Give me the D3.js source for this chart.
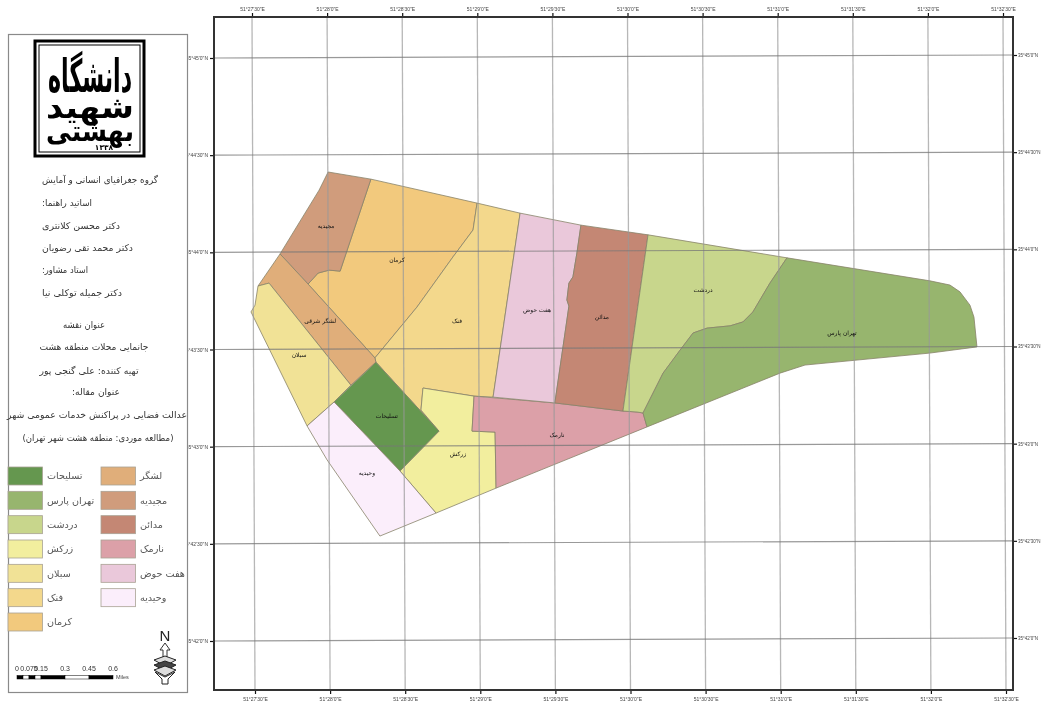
<!DOCTYPE html>
<html>
<head>
<meta charset="utf-8">
<script src="https://cdn.jsdelivr.net/npm/d3@7"></script>
<style>
html, body { margin: 0; padding: 0; background: #fff; }
svg { display: block; filter: blur(0.45px); }
text { font-family: "DejaVu Sans", sans-serif; }
</style>
</head>
<body>
<script>
var width = 1041,
    height = 702;

// lon = seconds after 51 deg 27', lat = seconds after 35 deg 42'
var lonTicks = [30, 60, 90, 120, 150, 180, 210, 240, 270, 300, 330];
var lonLabels = ["51°27'30\"E", "51°28'0\"E", "51°28'30\"E", "51°29'0\"E", "51°29'30\"E", "51°30'0\"E",
    "51°30'30\"E", "51°31'0\"E", "51°31'30\"E", "51°32'0\"E", "51°32'30\"E"];
var latTicks = [180, 150, 120, 90, 60, 30, 0];
var latLabels = ["35°45'0\"N", "35°44'30\"N", "35°44'0\"N", "35°43'30\"N", "35°43'0\"N", "35°42'30\"N", "35°42'0\"N"];

var districtNames = ["کرمان", "فنک", "زرکش", "مجیدیه", "لشگر شرقی", "سبلان", "تسلیحات", "وحیدیه", "نارمک", "هفت حوض", "مدائن", "دردشت", "تهران پارس"];

var kerman = [[77.5,142.6],[119.9,135.2],[118.3,126.9],[110.3,118.6],[95.9,103.1],[79.1,87.4],[52.4,110.2],[56.4,113.6],[60.8,114.5],[65.2,114.2]];
var fanak = [[119.9,135.2],[137.1,132.1],[126.3,75.3],[118.7,75.6],[98.3,78.1],[97.5,71.3],[104.7,64.8],[79.5,86.1],[79.1,87.4],[95.9,103.1],[110.3,118.6],[118.3,126.9]];
var zarkesh = [[98.3,78.1],[118.7,75.6],[117.9,64.8],[127.1,64.5],[127.5,47.2],[103.5,39.5],[89.1,52.5],[104.7,64.8],[97.5,71.3]];
var majidieh = [[60.4,144.8],[77.5,142.6],[65.2,114.2],[60.8,114.5],[56.4,113.6],[52.4,110.2],[41.2,119.5],[56.8,139.2]];
var lashgar = [[41.2,119.5],[52.4,110.2],[79.1,87.4],[79.5,86.1],[69.5,79.0],[36.8,110.5],[32.4,109.6]];
var sabalan = [[32.4,109.6],[36.8,110.5],[69.5,79.0],[62.8,73.8],[52.0,66.4],[29.6,101.6],[31.2,103.7]];
var taslihat = [[79.5,86.1],[104.7,64.8],[89.1,52.5],[62.8,73.8]];
var vahidieh = [[62.8,73.8],[89.1,52.5],[103.5,39.5],[81.1,32.4],[60.0,55.9],[52.0,66.4]];
var narmak = [[118.7,75.6],[151.0,73.5],[178.2,71.0],[183.8,70.7],[186.2,70.4],[187.8,66.1],[127.5,47.2],[127.1,64.5],[117.9,64.8]];
var haftHoz = [[137.1,132.1],[161.4,128.4],[159.8,119.8],[158.2,112.4],[156.6,110.5],[155.8,105.3],[156.6,103.4],[151.0,73.5],[126.3,75.3]];
var madaen = [[161.4,128.4],[188.2,125.4],[178.2,71.0],[151.0,73.5],[156.6,103.4],[155.8,105.3],[156.6,110.5],[158.2,112.4],[159.8,119.8]];
var dardasht = [[188.2,125.4],[243.7,118.3],[236.9,110.5],[230.1,101.6],[226.1,98.5],[221.0,97.3],[211.8,96.6],[206.2,95.1],[201.0,89.8],[194.2,82.7],[186.2,70.4],[183.8,70.7],[178.2,71.0]];
var tehranPars = [[243.7,118.3],[300.8,111.2],[308.8,109.9],[312.8,107.8],[316.8,103.7],[318.4,100.0],[319.6,90.8],[300.8,88.9],[250.9,85.2],[240.9,82.7],[187.8,66.1],[186.2,70.4],[194.2,82.7],[201.0,89.8],[206.2,95.1],[211.8,96.6],[221.0,97.3],[226.1,98.5],[230.1,101.6],[236.9,110.5]];
var districtRings = [kerman, fanak, zarkesh, majidieh, lashgar, sabalan, taslihat, vahidieh, narmak, haftHoz, madaen, dardasht, tehranPars];
var districtLabelAt = [[87.9,117.6],[111.9,98.8],[112.3,57.7],[59.6,128.1],[57.2,98.8],[48.8,88.3],[83.9,69.5],[75.9,51.9],[151.8,63.6],[143.9,102.2],[169.8,100.0],[210.2,108.4],[265.7,95.1]];
var districtColors = ["#f2c97d", "#f3d88c", "#f2ee9e", "#d09c7c", "#e0ae7a", "#f1e296", "#65974f", "#fbeefb", "#dca0a8", "#eac8da", "#c48774", "#c8d68c", "#97b56e"];

var legendLeft = ["تسلیحات", "تهران پارس", "دردشت", "زرکش", "سبلان", "فنک", "کرمان"];
var legendLeftColors = ["#65974f", "#97b56e", "#c8d68c", "#f2ee9e", "#f1e296", "#f3d88c", "#f2c97d"];
var legendRight = ["لشگر", "مجیدیه", "مدائن", "نارمک", "هفت حوض", "وحیدیه"];
var legendRightColors = ["#e0ae7a", "#d09c7c", "#c48774", "#dca0a8", "#eac8da", "#fbeefb"];

var creditLines = ["گروه جغرافیای انسانی و آمایش", "اساتید راهنما:", "دکتر محسن کلانتری", "دکتر محمد تقی رضویان", "استاد مشاور:", "دکتر جمیله توکلی نیا"];
var titleLines = ["عنوان نقشه", "جانمایی محلات منطقه هشت", "تهیه کننده: علی گنجی پور", "عنوان مقاله:", "عدالت فضایی در پراکنش خدمات  عمومی شهر", "(مطالعه موردی: منطقه هشت شهر تهران)"];

var scaleStops = [0, 0.0375, 0.075, 0.1125, 0.15, 0.3, 0.45, 0.6];
var scaleTicks = [0, 0.075, 0.15, 0.3, 0.45, 0.6];

var frame = {left: 214, right: 1013, top: 17, bottom: 690};

var xTop = d3.scaleLinear().domain([30, 330]).range([252, 1003]),
    xBottom = d3.scaleLinear().domain([30, 330]).range([255, 1006]),
    yLeft = d3.scaleLinear().domain([0, 180]).range([641, 58]),
    yRight = d3.scaleLinear().domain([0, 180]).range([638, 55]);

var svg = d3.select("body").append("svg")
    .attr("width", width)
    .attr("height", height);

// districts
var line = d3.line()
    .x(function(d) { return xTop(d[0]); })
    .y(function(d) { return yLeft(d[1]); });

svg.append("g").selectAll("path")
    .data(districtRings)
    .enter().append("path")
    .attr("d", function(d) { return line(d) + "Z"; })
    .style("fill", function(d, i) { return districtColors[i]; })
    .style("stroke", "#88836a")
    .style("stroke-width", 0.8)
    .style("stroke-linejoin", "round");

// graticule goes over the districts
var grid = svg.append("g");
grid.selectAll(".lon")
    .data(lonTicks)
    .enter().append("line")
    .attr("class", "lon")
    .attr("x1", function(d) { return xTop(d); })
    .attr("x2", function(d) { return xBottom(d); })
    .attr("y1", frame.top)
    .attr("y2", frame.bottom)
    .style("stroke", "#999")
    .style("stroke-opacity", 0.7)
    .style("stroke-width", 1.3);
grid.selectAll(".lat")
    .data(latTicks)
    .enter().append("line")
    .attr("class", "lat")
    .attr("x1", frame.left)
    .attr("x2", frame.right)
    .attr("y1", function(d) { return yLeft(d); })
    .attr("y2", function(d) { return yRight(d); })
    .style("stroke", "#777")
    .style("stroke-opacity", 0.75)
    .style("stroke-width", 1.2);

svg.append("g").selectAll("text")
    .data(districtNames)
    .enter().append("text")
    .attr("x", function(d, i) { return xTop(districtLabelAt[i][0]); })
    .attr("y", function(d, i) { return yLeft(districtLabelAt[i][1]); })
    .attr("dy", "0.35em")
    .attr("text-anchor", "middle")
    .style("font-size", "6px")
    .style("fill", "#111")
    .text(function(d) { return d; });

// axes, one on each side of the frame
function styleAxis(g) {
    g.select(".domain").remove();
    g.selectAll(".tick line").style("stroke", "#111").style("stroke-width", 1.2);
    g.selectAll(".tick text").style("font-size", "5px").style("fill", "#444").style("font-family", "'Liberation Sans', sans-serif");
}
svg.append("g").attr("transform", "translate(0," + frame.top + ")")
    .call(d3.axisTop(xTop).tickValues(lonTicks).tickSize(4).tickPadding(2).tickFormat(function(d, i) { return lonLabels[i]; }))
    .call(styleAxis);
svg.append("g").attr("transform", "translate(0," + frame.bottom + ")")
    .call(d3.axisBottom(xBottom).tickValues(lonTicks).tickSize(4).tickPadding(3).tickFormat(function(d, i) { return lonLabels[i]; }))
    .call(styleAxis);
svg.append("g").attr("transform", "translate(" + frame.left + ",0)")
    .call(d3.axisLeft(yLeft).tickValues(latTicks).tickSize(4).tickPadding(2).tickFormat(function(d, i) { return latLabels[i]; }))
    .call(styleAxis);
svg.append("g").attr("transform", "translate(" + frame.right + ",0)")
    .call(d3.axisRight(yRight).tickValues(latTicks).tickSize(4).tickPadding(1).tickFormat(function(d, i) { return latLabels[i]; }))
    .call(styleAxis)
    .selectAll(".tick text").style("font-size", "4.5px");

svg.append("rect")
    .attr("x", frame.left)
    .attr("y", frame.top)
    .attr("width", frame.right - frame.left)
    .attr("height", frame.bottom - frame.top)
    .style("fill", "none")
    .style("stroke", "#333")
    .style("stroke-width", 2);

// side panel
var panel = svg.append("g");
panel.append("rect")
    .attr("x", 8.5).attr("y", 34.5)
    .attr("width", 179).attr("height", 658)
    .style("fill", "#fff")
    .style("stroke", "#8a8a8a")
    .style("stroke-width", 1.2);

// logo
var logo = panel.append("g");
logo.append("rect").attr("x", 35).attr("y", 41).attr("width", 109).attr("height", 115)
    .style("fill", "#fff").style("stroke", "#000").style("stroke-width", 3);
logo.append("rect").attr("x", 39).attr("y", 45).attr("width", 101).attr("height", 107)
    .style("fill", "none").style("stroke", "#000").style("stroke-width", 1);
logo.selectAll(".logoline")
    .data(["دانشگاه", "شهید", "بهشتی"])
    .enter().append("text")
    .attr("class", "logoline")
    .attr("transform", function(d, i) {
        return "translate(" + [90, 90, 90][i] + "," + [92, 118, 141][i] + ") scale(1," + [1.75, 1.1, 1.1][i] + ")";
    })
    .attr("text-anchor", "middle")
    .attr("textLength", function(d, i) { return [84, 88, 88][i]; })
    .attr("lengthAdjust", "spacingAndGlyphs")
    .style("font-size", function(d, i) { return [26, 28, 26][i] + "px"; })
    .style("font-weight", "bold")
    .style("fill", "#000")
    .text(function(d) { return d; });
logo.append("text")
    .attr("x", 104).attr("y", 150)
    .attr("text-anchor", "middle")
    .style("font-size", "7.5px")
    .style("font-weight", "bold")
    .text("۱۳۳۸");

var creditY = [180, 203, 226, 248, 270, 293],
    creditX = [100, 42, 42, 42, 42, 42],
    creditWidth = [116, 50, 78, 91, 46, 80],
    titleY = [325, 347, 371, 392, 415, 438],
    titleX = [84, 94, 89, 96, 97, 98],
    titleWidth = [42, 109, 99, 48, 180, 151];

panel.selectAll(".credit")
    .data(creditLines)
    .enter().append("text")
    .attr("class", "credit")
    .attr("x", function(d, i) { return creditX[i]; })
    .attr("y", function(d, i) { return creditY[i]; })
    .attr("dy", "0.35em")
    .attr("direction", "rtl")
    .attr("text-anchor", function(d, i) { return i ? "end" : "middle"; })
    .attr("textLength", function(d, i) { return creditWidth[i]; })
    .attr("lengthAdjust", "spacingAndGlyphs")
    .style("font-size", "9.2px")
    .style("fill", "#333")
    .text(function(d) { return d; });

panel.selectAll(".title")
    .data(titleLines)
    .enter().append("text")
    .attr("class", "title")
    .attr("x", function(d, i) { return titleX[i]; })
    .attr("y", function(d, i) { return titleY[i]; })
    .attr("dy", "0.35em")
    .attr("direction", "rtl")
    .attr("text-anchor", "middle")
    .attr("textLength", function(d, i) { return titleWidth[i]; })
    .attr("lengthAdjust", "spacingAndGlyphs")
    .style("font-size", "9.2px")
    .style("fill", "#333")
    .text(function(d) { return d; });

// legend
var legendY = d3.scalePoint().domain(d3.range(7)).range([476, 622]);

function legendColumn(labels, colors, swatchX, textX) {
    var row = panel.append("g").selectAll("g")
        .data(labels)
        .enter().append("g")
        .attr("transform", function(d, i) { return "translate(0," + legendY(i) + ")"; });
    row.append("rect")
        .attr("x", swatchX).attr("y", -9)
        .attr("width", 34.5).attr("height", 18)
        .style("fill", function(d, i) { return colors[i]; })
        .style("stroke", "#a9a294")
        .style("stroke-width", 0.8);
    row.append("text")
        .attr("x", textX)
        .attr("dy", "0.35em")
        .attr("direction", "rtl")
        .attr("text-anchor", "end")
        .style("font-size", "9.6px")
        .style("fill", "#555")
        .text(function(d) { return d; });
}
legendColumn(legendLeft, legendLeftColors, 8, 47);
legendColumn(legendRight, legendRightColors, 101, 140);

// scale bar
var miles = d3.scaleLinear().domain([0, 0.6]).range([17, 113]);
panel.append("g").selectAll("rect")
    .data(d3.pairs(scaleStops))
    .enter().append("rect")
    .attr("x", function(d) { return miles(d[0]); })
    .attr("y", 675.5)
    .attr("width", function(d) { return miles(d[1]) - miles(d[0]); })
    .attr("height", 3.5)
    .style("fill", function(d, i) { return i % 2 ? "#fff" : "#000"; })
    .style("stroke", "#000")
    .style("stroke-width", 0.5);
panel.append("g").selectAll("text")
    .data(scaleTicks)
    .enter().append("text")
    .attr("x", function(d) { return miles(d); })
    .attr("y", 671)
    .attr("text-anchor", "middle")
    .style("font-size", "7px")
    .style("fill", "#333")
    .style("font-family", "'Liberation Sans', sans-serif")
    .text(function(d) { return d; });
panel.append("text")
    .attr("x", 116).attr("y", 679)
    .style("font-size", "5.5px")
    .style("fill", "#444")
    .style("font-family", "'Liberation Sans', sans-serif")
    .text("Miles");

// north arrow
var north = panel.append("g").attr("transform", "translate(165,0)");
north.append("text")
    .attr("y", 641)
    .attr("text-anchor", "middle")
    .style("font-size", "15px")
    .style("fill", "#222")
    .style("font-family", "'Liberation Sans', sans-serif")
    .text("N");
north.append("path")
    .attr("d", "M0,643L5,650H2V658H-2V650H-5Z")
    .style("fill", "#fff").style("stroke", "#333").style("stroke-width", 1);
north.selectAll(".leaf")
    .data([660, 665, 670])
    .enter().append("path")
    .attr("class", "leaf")
    .attr("d", function(d) { return "M0," + (d - 4) + "L11," + d + "L0," + (d + 6) + "L-11," + d + "Z"; })
    .style("fill", function(d, i) { return i == 1 ? "#444" : "#ddd"; })
    .style("stroke", "#222")
    .style("stroke-width", 1);
north.append("path")
    .attr("d", "M-10,672L-3,679V684H3V679L10,672L0,677Z")
    .style("fill", "#fff").style("stroke", "#222").style("stroke-width", 1);
</script>
</body>
</html>
